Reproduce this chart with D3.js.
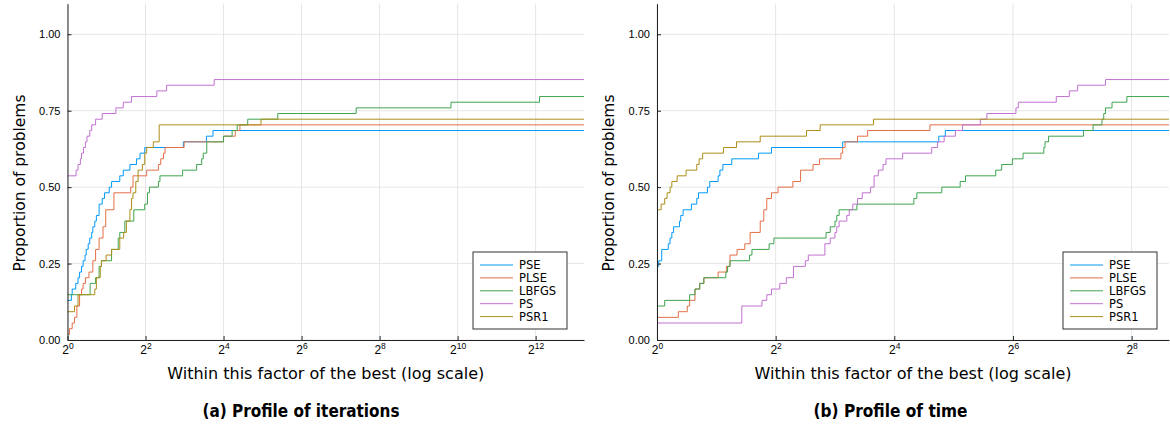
<!DOCTYPE html>
<html>
<head>
<meta charset="utf-8">
<script src="https://cdn.jsdelivr.net/npm/d3@7"></script>
<style>
  body { margin: 0; background: #fff; }
  svg { display: block; font-family: "DejaVu Sans", sans-serif; }
</style>
</head>
<body>
<div id="chart"></div>
<script>
// performance profiles, 54 problems; points are [log2 ratio, solved count]
const nProblems = 54;
const seriesNames = ["PSE", "PLSE", "LBFGS", "PS", "PSR1"];
const seriesColors = ["#009afa", "#e36f47", "#3ea44e", "#c371d2", "#ac8e18"];
const xTickExps = [0, 2, 4, 6, 8, 10, 12];
const yTickVals = [0, 0.25, 0.5, 0.75, 1.0];

// (a) iterations
const iterPSE = [[0,7],[0.10,8],[0.12,9],[0.21,10],[0.27,11],[0.31,12],[0.36,13],[0.40,14],[0.45,15],[0.48,16],[0.53,17],[0.57,18],[0.62,19],[0.65,20],[0.70,21],[0.74,22],[0.81,24],[0.89,25],[0.95,26],[1.07,27],[1.13,28],[1.34,29],[1.43,30],[1.60,31],[1.77,32],[1.86,33],[1.98,34],[2.97,35],[3.56,36],[3.73,37]];
const iterPLSE = [[0,1],[0.05,2],[0.12,3],[0.18,4],[0.24,6],[0.31,8],[0.36,9],[0.40,10],[0.46,11],[0.55,12],[0.65,14],[0.72,16],[0.81,18],[0.91,20],[0.98,23],[1.19,26],[1.62,27],[1.68,29],[2.03,30],[2.33,31],[2.39,32],[2.46,33],[2.50,34],[2.99,35],[4.0,36],[4.3,37],[4.42,38]];
const iterLBFGS = [[0,8],[0.58,10],[0.72,11],[0.81,13],[0.87,14],[1.13,16],[1.30,18],[1.34,19],[1.47,21],[1.70,23],[1.98,24],[2.05,26],[2.10,27],[2.33,28],[2.37,29],[2.95,30],[3.31,31],[3.44,32],[3.48,33],[3.57,35],[4.0,36],[4.22,37],[4.35,38],[4.62,39],[5.39,40],[7.40,41],[9.83,42],[12.10,43]];
const iterPS = [[0,29],[0.22,30],[0.27,31],[0.33,32],[0.36,33],[0.41,34],[0.46,35],[0.50,36],[0.57,37],[0.62,38],[0.72,39],[0.89,40],[1.24,41],[1.43,42],[1.64,43],[2.29,44],[2.54,45],[3.76,46]];
const iterPSR1 = [[0,5],[0.18,6],[0.27,8],[0.70,9],[0.74,11],[0.84,13],[0.87,14],[0.99,15],[1.13,16],[1.34,18],[1.44,19],[1.51,21],[1.60,23],[1.64,25],[1.68,26],[1.75,28],[1.81,30],[1.92,31],[1.98,33],[2.03,34],[2.20,35],[2.35,38],[4.96,39]];

// (b) time
const timePSE = [[0,13],[0.03,14],[0.08,16],[0.19,17],[0.22,18],[0.25,19],[0.28,20],[0.38,21],[0.40,22],[0.44,23],[0.58,24],[0.67,25],[0.70,26],[0.85,27],[0.89,28],[1.03,29],[1.06,30],[1.11,31],[1.26,32],[1.71,33],[1.93,34],[3.13,35],[4.75,36],[4.86,37]];
const timePLSE = [[0,4],[0.36,5],[0.51,6],[0.55,7],[0.64,9],[0.72,10],[0.79,11],[1.03,12],[1.17,13],[1.23,15],[1.35,16],[1.48,17],[1.57,19],[1.74,21],[1.80,23],[1.85,25],[1.93,26],[2.04,27],[2.29,28],[2.42,30],[2.63,31],[2.74,32],[3.10,33],[3.13,34],[3.17,35],[3.38,36],[3.55,37],[4.60,38]];
const timeLBFGS = [[0,6],[0.13,7],[0.55,8],[0.64,9],[0.72,10],[0.79,11],[1.16,12],[1.19,13],[1.23,14],[1.56,15],[1.60,16],[1.89,17],[1.97,18],[2.85,19],[2.92,20],[3.0,21],[3.03,22],[3.07,23],[3.37,24],[4.33,25],[4.38,26],[4.80,27],[5.11,28],[5.20,29],[5.71,30],[5.81,31],[5.99,32],[6.17,33],[6.52,34],[6.54,35],[6.60,36],[7.19,37],[7.35,38],[7.50,39],[7.53,40],[7.56,41],[7.67,42],[7.92,43]];
const timePS = [[0,3],[1.43,6],[1.77,7],[1.85,8],[1.93,9],[2.07,10],[2.18,11],[2.30,13],[2.50,14],[2.55,15],[2.83,17],[2.92,18],[3.0,19],[3.03,20],[3.07,21],[3.20,22],[3.24,23],[3.30,24],[3.38,25],[3.46,26],[3.60,27],[3.66,29],[3.73,30],[3.81,31],[3.86,32],[4.14,33],[4.63,34],[4.73,35],[4.84,36],[5.03,37],[5.15,38],[5.45,39],[5.56,40],[6.05,41],[6.09,42],[6.73,43],[6.95,44],[7.09,45],[7.56,46]];
const timePSR1 = [[0,23],[0.07,24],[0.13,25],[0.17,26],[0.22,27],[0.25,28],[0.34,29],[0.49,30],[0.67,31],[0.71,32],[0.77,33],[1.12,34],[1.34,35],[1.74,36],[2.52,37],[2.75,38],[3.65,39]];

const W = 1170, H = 427;
const svg = d3.select("#chart").append("svg")
    .attr("width", W)
    .attr("height", H);

const panels = [
    { left: 67.5, right: 584, xMax: 13.24, caption: "(a) Profile of iterations",
      capX: 301, capW: 197,
      series: [iterPSE, iterPLSE, iterLBFGS, iterPS, iterPSR1], legendX: 473 },
    { left: 657, right: 1169, xMax: 8.63, caption: "(b) Profile of time",
      capX: 890.5, capW: 154,
      series: [timePSE, timePLSE, timeLBFGS, timePS, timePSR1], legendX: 1063 }
];

const plotTop = 3.7, plotBottom = 340;

panels.forEach(function(p) {
    const x = d3.scaleLinear().domain([0, p.xMax]).range([p.left, p.right]);
    const y = d3.scaleLinear().domain([0, 1.1]).range([plotBottom, plotTop]);
    const ticksX = xTickExps.filter(e => e <= p.xMax);

    const g = svg.append("g");

    // grid
    g.append("g").selectAll("line")
        .data(ticksX)
        .enter().append("line")
        .attr("x1", d => x(d)).attr("x2", d => x(d))
        .attr("y1", plotTop).attr("y2", plotBottom)
        .attr("stroke", "#e6e6e6");
    g.append("g").selectAll("line")
        .data(yTickVals)
        .enter().append("line")
        .attr("x1", p.left).attr("x2", p.right)
        .attr("y1", d => y(d)).attr("y2", d => y(d))
        .attr("stroke", "#e6e6e6");

    // profiles
    const line = d3.line()
        .x(d => x(d[0]))
        .y(d => y(d[1] / nProblems))
        .curve(d3.curveStepAfter);

    p.series.forEach(function(s, i) {
        const pts = s.concat([[p.xMax, s[s.length - 1][1]]]);
        g.append("path")
            .datum(pts)
            .attr("fill", "none")
            .attr("stroke", seriesColors[i])
            .attr("stroke-width", 1)
            .attr("d", line);
    });

    // axes
    const xAxis = g.append("g")
        .attr("transform", `translate(0,${plotBottom})`)
        .call(d3.axisBottom(x).tickValues(ticksX).tickSizeInner(-4).tickSizeOuter(0).tickPadding(5));
    xAxis.selectAll("text").each(function(d) {
        const t = d3.select(this).text(null)
            .attr("font-size", 12).attr("fill", "#000");
        t.append("tspan").text("2");
        t.append("tspan").attr("dy", -5).attr("font-size", 8.5).text(d);
    });

    const yAxis = g.append("g")
        .attr("transform", `translate(${p.left},0)`)
        .call(d3.axisLeft(y).tickValues(yTickVals).tickFormat(d3.format(".2f"))
            .tickSizeInner(-4).tickSizeOuter(0).tickPadding(7));
    yAxis.selectAll("text").attr("font-size", 11).attr("fill", "#000");

    [xAxis, yAxis].forEach(a => {
        a.select(".domain").attr("stroke", "#222");
        a.selectAll(".tick line").attr("stroke", "#222");
    });

    // labels
    g.append("text")
        .attr("x", (p.left + p.right) / 2)
        .attr("y", 379)
        .attr("text-anchor", "middle")
        .attr("font-size", 16)
        .text("Within this factor of the best (log scale)");
    g.append("text")
        .attr("transform", `translate(${p.left - 43},183) rotate(-90)`)
        .attr("text-anchor", "middle")
        .attr("font-size", 15.5)
        .text("Proportion of problems");
    g.append("text")
        .attr("x", p.capX)
        .attr("y", 417)
        .attr("text-anchor", "middle")
        .attr("font-size", 17.5)
        .attr("font-weight", "bold")
        .attr("textLength", p.capW)
        .attr("lengthAdjust", "spacingAndGlyphs")
        .text(p.caption);

    // legend
    const lg = g.append("g").attr("transform", `translate(${p.legendX},252)`);
    lg.append("rect")
        .attr("width", 94).attr("height", 77)
        .attr("fill", "#fff").attr("stroke", "#333");
    seriesNames.forEach(function(name, i) {
        const ly = 13 + i * 12.9;
        lg.append("line")
            .attr("x1", 7).attr("x2", 40)
            .attr("y1", ly).attr("y2", ly)
            .attr("stroke", seriesColors[i]);
        lg.append("text")
            .attr("x", 46).attr("y", ly + 4)
            .attr("font-size", 11.5)
            .text(name);
    });
});
</script>
</body>
</html>
